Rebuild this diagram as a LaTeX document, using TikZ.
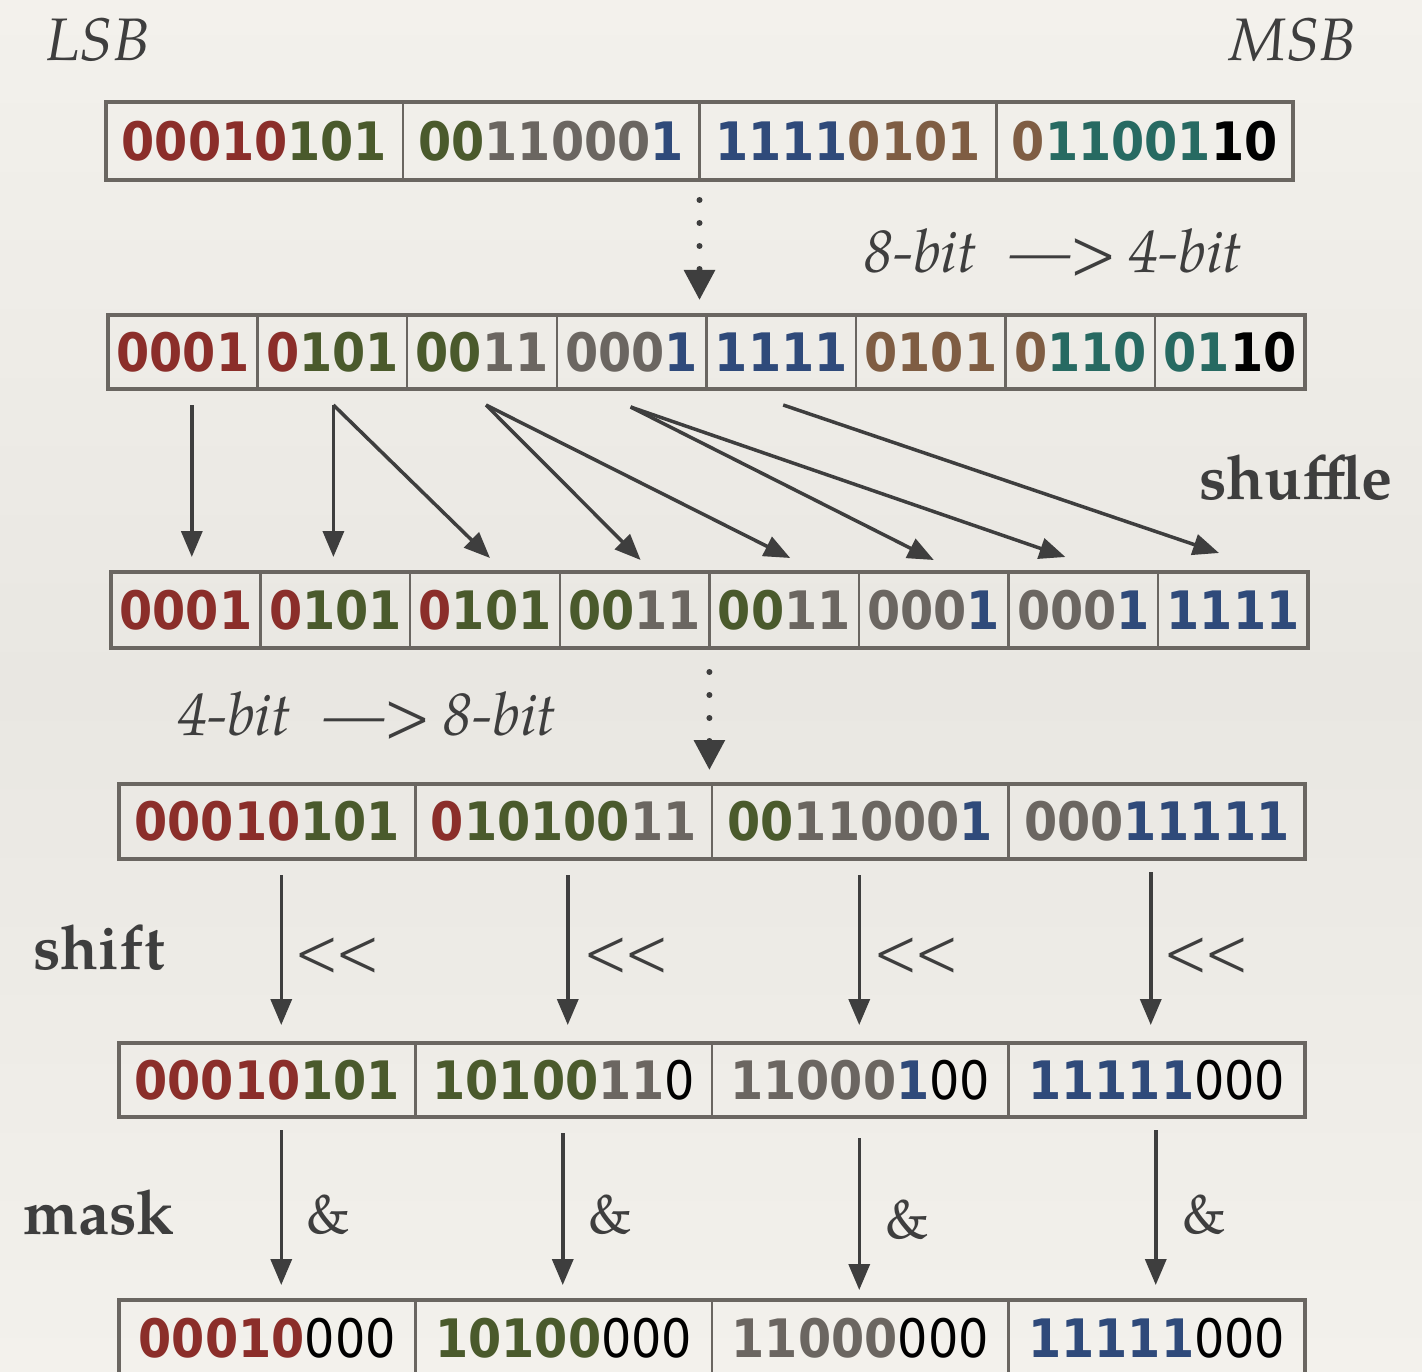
\documentclass[tikz,border=0pt]{standalone}
\usepackage{fontspec}
\newfontfamily\digf[FakeStretch=0.9]{DejaVu Sans}
\newfontfamily\palf[Extension=.otf, UprightFont=*-regular, BoldFont=*-bold, ItalicFont=*-italic, BoldItalicFont=*-bolditalic]{texgyrepagella}
\usetikzlibrary{arrows.meta,positioning,calc}
\definecolor{cred}{HTML}{8B2E2A}
\definecolor{cgreen}{HTML}{4A5A2C}
\definecolor{cgray}{HTML}{6B6661}
\definecolor{cblue}{HTML}{2F4A7A}
\definecolor{cbrown}{HTML}{7F5D43}
\definecolor{cteal}{HTML}{276A62}
\definecolor{frame}{HTML}{6A6661}
\definecolor{ink}{HTML}{3E3E3E}
\definecolor{paperA}{HTML}{F3F1EC}
\definecolor{paperB}{HTML}{E9E7E2}
\newcommand\cR[1]{\textcolor{cred}{#1}}
\newcommand\cG[1]{\textcolor{cgreen}{#1}}
\newcommand\cY[1]{\textcolor{cgray}{#1}}
\newcommand\cB[1]{\textcolor{cblue}{#1}}
\newcommand\cN[1]{\textcolor{cbrown}{#1}}
\newcommand\cT[1]{\textcolor{cteal}{#1}}
\newcommand\cK[1]{\textcolor{black}{#1}}
\newcommand\cL[1]{\textcolor{black}{\mdseries #1}}
\tikzset{
  bitcell/.style={draw=frame, line width=2.5pt, inner sep=0pt, outer sep=0pt, anchor=west,
    font=\digf\bfseries\fontsize{53}{53}\selectfont},
  wide/.style={minimum width=#1},
  outerframe/.style={draw=frame, line width=4.5pt},
  arr/.style={draw=ink, line width=3.5pt, -{Triangle[length=26pt,width=21pt]}},
  dotarr/.style={draw=ink, line width=6pt, line cap=round, dash pattern=on 0pt off 23pt,
    -{Triangle[length=30pt,width=30pt]}},
  itlabel/.style={text=ink, font=\palf\itshape\fontsize{60}{60}\selectfont, inner sep=0pt},
  bdlabel/.style={text=ink, font=\palf\bfseries\fontsize{62}{62}\selectfont, inner sep=0pt},
  oplabel/.style={text=ink, font=\palf\fontsize{56}{56}\selectfont, inner sep=0pt},
}
\begin{document}
\begin{tikzpicture}[x=1pt,y=-1pt]
\useasboundingbox (0,0) rectangle (1422,1372);
\clip (0,0) rectangle (1422,1372);
\shade[top color=paperA, bottom color=paperA, middle color=paperB] (0,0) rectangle (1422,1372);

% Row 1
\node[bitcell, wide=296.75pt, minimum height=78pt] (r1c1) at (106,141) {\cR{00010}\cG{101}};
\node[bitcell, wide=296.75pt, minimum height=78pt, right=0pt of r1c1] (r1c2) {\cG{00}\cY{11000}\cB{1}};
\node[bitcell, wide=296.75pt, minimum height=78pt, right=0pt of r1c2] (r1c3) {\cB{1111}\cN{0101}};
\node[bitcell, wide=296.75pt, minimum height=78pt, right=0pt of r1c3] (r1c4) {\cN{0}\cT{11001}\cK{10}};
\draw[outerframe] (r1c1.north west) rectangle (r1c4.south east);

% Row 2
\node[bitcell, wide=149.6pt, minimum height=74pt] (r2c1) at (108,352) {\cR{0001}};
\node[bitcell, wide=149.6pt, minimum height=74pt, right=0pt of r2c1] (r2c2) {\cR{0}\cG{101}};
\node[bitcell, wide=149.6pt, minimum height=74pt, right=0pt of r2c2] (r2c3) {\cG{00}\cY{11}};
\node[bitcell, wide=149.6pt, minimum height=74pt, right=0pt of r2c3] (r2c4) {\cY{000}\cB{1}};
\node[bitcell, wide=149.6pt, minimum height=74pt, right=0pt of r2c4] (r2c5) {\cB{1111}};
\node[bitcell, wide=149.6pt, minimum height=74pt, right=0pt of r2c5] (r2c6) {\cN{0101}};
\node[bitcell, wide=149.6pt, minimum height=74pt, right=0pt of r2c6] (r2c7) {\cN{0}\cT{110}};
\node[bitcell, wide=149.6pt, minimum height=74pt, right=0pt of r2c7] (r2c8) {\cT{01}\cK{10}};
\draw[outerframe] (r2c1.north west) rectangle (r2c8.south east);

% Row 3
\node[bitcell, wide=149.6pt, minimum height=76pt] (r3c1) at (111,610) {\cR{0001}};
\node[bitcell, wide=149.6pt, minimum height=76pt, right=0pt of r3c1] (r3c2) {\cR{0}\cG{101}};
\node[bitcell, wide=149.6pt, minimum height=76pt, right=0pt of r3c2] (r3c3) {\cR{0}\cG{101}};
\node[bitcell, wide=149.6pt, minimum height=76pt, right=0pt of r3c3] (r3c4) {\cG{00}\cY{11}};
\node[bitcell, wide=149.6pt, minimum height=76pt, right=0pt of r3c4] (r3c5) {\cG{00}\cY{11}};
\node[bitcell, wide=149.6pt, minimum height=76pt, right=0pt of r3c5] (r3c6) {\cY{000}\cB{1}};
\node[bitcell, wide=149.6pt, minimum height=76pt, right=0pt of r3c6] (r3c7) {\cY{000}\cB{1}};
\node[bitcell, wide=149.6pt, minimum height=76pt, right=0pt of r3c7] (r3c8) {\cB{1111}};
\draw[outerframe] (r3c1.north west) rectangle (r3c8.south east);

% Row 4
\node[bitcell, wide=296.5pt, minimum height=75pt] (r4c1) at (119,821.5) {\cR{00010}\cG{101}};
\node[bitcell, wide=296.5pt, minimum height=75pt, right=0pt of r4c1] (r4c2) {\cR{0}\cG{10100}\cY{11}};
\node[bitcell, wide=296.5pt, minimum height=75pt, right=0pt of r4c2] (r4c3) {\cG{00}\cY{11000}\cB{1}};
\node[bitcell, wide=296.5pt, minimum height=75pt, right=0pt of r4c3] (r4c4) {\cY{000}\cB{11111}};
\draw[outerframe] (r4c1.north west) rectangle (r4c4.south east);

% Row 5
\node[bitcell, wide=296.5pt, minimum height=74pt] (r5c1) at (119,1080) {\cR{00010}\cG{101}};
\node[bitcell, wide=296.5pt, minimum height=74pt, right=0pt of r5c1] (r5c2) {\cG{10100}\cY{11}\cL{0}};
\node[bitcell, wide=296.5pt, minimum height=74pt, right=0pt of r5c2] (r5c3) {\cY{11000}\cB{1}\cL{00}};
\node[bitcell, wide=296.5pt, minimum height=74pt, right=0pt of r5c3] (r5c4) {\cB{11111}\cL{000}};
\draw[outerframe] (r5c1.north west) rectangle (r5c4.south east);

% Row 6
\node[bitcell, wide=296.5pt, minimum height=76pt] (r6c1) at (119,1338) {\cR{00010}\cL{000}};
\node[bitcell, wide=296.5pt, minimum height=76pt, right=0pt of r6c1] (r6c2) {\cG{10100}\cL{000}};
\node[bitcell, wide=296.5pt, minimum height=76pt, right=0pt of r6c2] (r6c3) {\cY{11000}\cL{000}};
\node[bitcell, wide=296.5pt, minimum height=76pt, right=0pt of r6c3] (r6c4) {\cB{11111}\cL{000}};
\draw[outerframe] (r6c1.north west) rectangle (r6c4.south east);

% Labels
\node[itlabel] (lsb) at (98,40) {LSB};
\node[itlabel] (msb) at (1293,40) {MSB};
\node[itlabel] (l84) at (1053,252) {8-bit\hspace{0.55em}\textemdash>\hspace{0.2em}4-bit};
\node[bdlabel] (shuf) at (1296,478) {shuffle};
\node[itlabel] (l48) at (367,715) {4-bit\hspace{0.55em}\textemdash>\hspace{0.2em}8-bit};
\node[bdlabel] (shft) at (99,948) {shift};
\node[bdlabel] (mask) at (99,1213) {mask};

% Dotted arrows
\draw[dotarr] ($(r1c2.south east)+(0,20)$) -- ($(r1c2.south east |- r2c1.north)+(0,-15)$);
\draw[dotarr] ($(r3c4.south east)+(0,24)$) -- ($(r3c4.south east |- r4c1.north)+(0,-14)$);

% Shuffle arrows
\draw[arr] ([xshift=9pt,yshift=-16pt]r2c1.south) -- ([xshift=6pt,yshift=15pt]r3c1.north);
\draw[arr] ([xshift=1pt,yshift=-16pt]r2c2.south) -- ([xshift=-2pt,yshift=15pt]r3c2.north);
\draw[arr] ([xshift=1pt,yshift=-16pt]r2c2.south) -- ([xshift=5pt,yshift=14pt]r3c3.north);
\draw[arr] ([xshift=4pt,yshift=-16pt]r2c3.south) -- ([xshift=6pt,yshift=12pt]r3c4.north);
\draw[arr] ([xshift=4pt,yshift=-16pt]r2c3.south) -- ([xshift=6pt,yshift=14pt]r3c5.north);
\draw[arr] ([xshift=-1pt,yshift=-18pt]r2c4.south) -- ([xshift=0pt,yshift=12pt]r3c6.north);
\draw[arr] ([xshift=-1pt,yshift=-18pt]r2c4.south) -- ([xshift=-18pt,yshift=15pt]r3c7.north);
\draw[arr] ([xshift=2pt,yshift=-16pt]r2c5.south) -- ([xshift=-14pt,yshift=19pt]r3c8.north);

% Shift arrows
\draw[arr] ([xshift=14pt,yshift=-16pt]r4c1.south) -- ([xshift=14pt,yshift=18pt]r5c1.north);
\draw[arr] ([xshift=4pt,yshift=-16pt]r4c2.south) -- ([xshift=4pt,yshift=18pt]r5c2.north);
\draw[arr] ([xshift=-1pt,yshift=-16pt]r4c3.south) -- ([xshift=-1pt,yshift=18pt]r5c3.north);
\draw[arr] ([xshift=-6pt,yshift=-13pt]r4c4.south) -- ([xshift=-6pt,yshift=18pt]r5c4.north);
\node[oplabel] (sh1) at (337,955) {<\kern-2pt<};
\node[oplabel] (sh2) at (626,955) {<\kern-2pt<};
\node[oplabel] (sh3) at (916,955) {<\kern-2pt<};
\node[oplabel] (sh4) at (1206,955) {<\kern-2pt<};

% Mask arrows
\draw[arr] ([xshift=14pt,yshift=-13pt]r5c1.south) -- ([xshift=14pt,yshift=15pt]r6c1.north);
\draw[arr] ([xshift=-1pt,yshift=-16pt]r5c2.south) -- ([xshift=-1pt,yshift=15pt]r6c2.north);
\draw[arr] ([xshift=-1pt,yshift=-21pt]r5c3.south) -- ([xshift=-1pt,yshift=10pt]r6c3.north);
\draw[arr] ([xshift=-1pt,yshift=-13pt]r5c4.south) -- ([xshift=-1pt,yshift=15pt]r6c4.north);
\node[oplabel] (m1) at (328,1215) {\&};
\node[oplabel] (m2) at (610,1215) {\&};
\node[oplabel] (m3) at (907,1220) {\&};
\node[oplabel] (m4) at (1204,1215) {\&};
\end{tikzpicture}
\end{document}
